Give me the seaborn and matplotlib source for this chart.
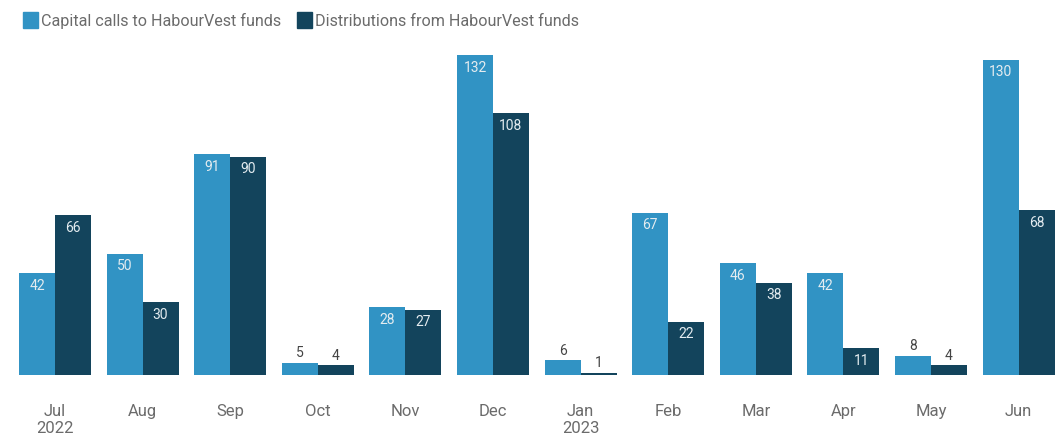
import numpy as np
import pandas as pd
import matplotlib.pyplot as plt
from matplotlib.patches import Patch
import seaborn as sns

# data
months = ["Jul\n2022", "Aug", "Sep", "Oct", "Nov", "Dec",
          "Jan\n2023", "Feb", "Mar", "Apr", "May", "Jun"]
capital_calls = [42, 50, 91, 5, 28, 132, 6, 67, 46, 42, 8, 130]
distributions = [66, 30, 90, 4, 27, 108, 1, 22, 38, 11, 4, 68]
series_names = ["Capital calls to HabourVest funds", "Distributions from HabourVest funds"]
colors = ["#3193c4", "#13445c"]

df = pd.DataFrame({
    "month": months * 2,
    "value": capital_calls + distributions,
    "series": [series_names[0]] * len(months) + [series_names[1]] * len(months),
})

sns.set_theme(style="white")
plt.rcParams["font.family"] = ["Roboto", "DejaVu Sans"]

fig = plt.figure(figsize=(10.58, 4.36), dpi=100)
ax = fig.add_axes([0, 1 - 375 / 436, 1, 140 * 2.424 / 436])

sns.barplot(data=df, x="month", y="value", hue="series", order=months,
            hue_order=series_names, palette=colors, width=0.82,
            saturation=1, legend=False, linewidth=0, ax=ax)

ax.set_xlim(-55 / 87.6, (1058 - 55) / 87.6)
ax.set_ylim(0, 140)
ax.set_xlabel("")
ax.set_ylabel("")
ax.set_yticks([])
sns.despine(ax=ax, left=True, bottom=True)
ax.tick_params(axis="x", length=0, pad=21, labelsize=12, labelcolor="#6b6b6b")
for t in ax.get_xticklabels():
    t.set_linespacing(1.15)

# value labels
for container in ax.containers:
    for bar in container:
        h = bar.get_height()
        x = bar.get_x() + bar.get_width() / 2
        if h < 10:
            ax.annotate(f"{h:.0f}", (x, h), xytext=(0, 2), textcoords="offset points",
                        ha="center", va="bottom", fontsize=10, color="#444444")
        else:
            ax.annotate(f"{h:.0f}", (x, h), xytext=(0, -4), textcoords="offset points",
                        ha="center", va="top", fontsize=10, color="#e4ecf0")

handles = [Patch(color=c, label=n) for c, n in zip(colors, series_names)]
fig.legend(handles=handles, loc="upper left", bbox_to_anchor=(0.008, 1.005), ncol=2,
           frameon=False, handlelength=0.95, handleheight=1.1,
           handletextpad=0.2, columnspacing=0.95, labelcolor="#6b6b6b",
           prop={"size": 11.6})

fig.savefig("out.png", dpi=100)
